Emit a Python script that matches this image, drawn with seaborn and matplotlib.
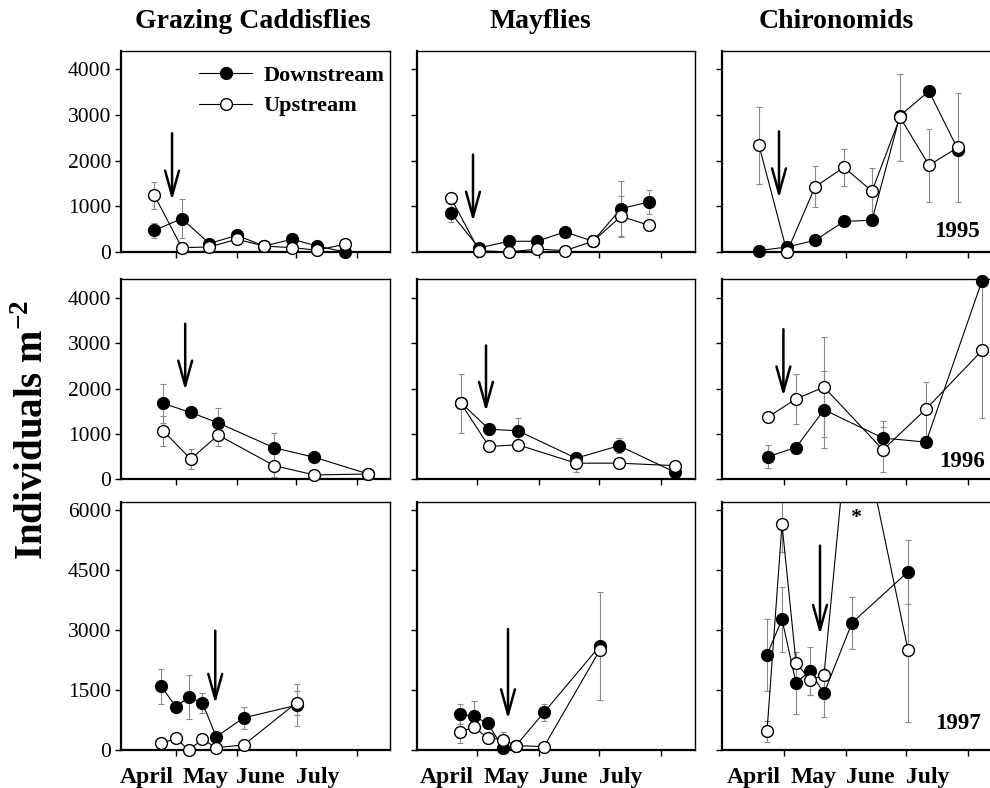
import numpy as np
import pandas as pd
import matplotlib
matplotlib.use('Agg')
import matplotlib.pyplot as plt
import seaborn as sns
from matplotlib.lines import Line2D

sns.set_style('ticks')
plt.rcParams['font.family'] = ['Liberation Serif', 'DejaVu Serif']
plt.rcParams['mathtext.fontset'] = 'custom'
plt.rcParams['mathtext.rm'] = 'Liberation Serif'
plt.rcParams['mathtext.bf'] = 'Liberation Serif:bold'
for key in ['text.color', 'xtick.color', 'ytick.color', 'axes.labelcolor',
            'axes.edgecolor']:
    plt.rcParams[key] = 'black'

# ---------------- data (days since 1 April) ----------------
taxa = ['Grazing Caddisflies', 'Mayflies', 'Chironomids']
years = ['1995', '1996', '1997']
months = ['April', 'May', 'June', 'July']
month_mid = [15, 45, 73, 102]
month_start = [30, 61, 91, 122]

# 1995
gc95_day = [19, 33, 47, 61, 75, 89, 102, 116]
gc95_down = [475, 730, 185, 365, 130, 280, 130, 0]
gc95_up = [1240, 95, 110, 280, 130, 95, 40, 170]
gc95_down_err = [160, 420, 0, 0, 0, 0, 0, 0]
gc95_up_err = [300, 0, 0, 0, 0, 0, 0, 0]

may95_day = [17, 31, 46, 60, 74, 88, 102, 116]
may95_down = [850, 90, 235, 235, 440, 235, 950, 1095]
may95_up = [1180, 30, 0, 65, 30, 235, 780, 585]
may95_down_err = [200, 0, 0, 0, 0, 0, 600, 260]
may95_up_err = [0, 0, 0, 0, 0, 0, 450, 0]

chi95_day = [17.5, 31.5, 45.5, 60, 74, 88, 102.5, 117]
chi95_down = [30, 110, 255, 670, 695, 2985, 3520, 2240]
chi95_up = [2335, 0, 1425, 1855, 1330, 2950, 1900, 2290]
chi95_down_err = [0, 0, 0, 100, 0, 0, 0, 0]
chi95_up_err = [850, 0, 450, 400, 500, 950, 800, 1200]

# 1996
gc96_day = [23.5, 37.5, 51.5, 80, 100.5, 128]
gc96_down = [1670, 1470, 1240, 690, 480, 110]
gc96_up = [1065, 440, 970, 295, 90, 110]
gc96_down_err = [440, 0, 330, 320, 0, 0]
gc96_up_err = [330, 220, 250, 250, 0, 0]

may96_day = [22, 36, 50.5, 79.5, 101, 129]
may96_down = [1685, 1100, 1065, 460, 735, 150]
may96_up = [1670, 720, 755, 350, 350, 295]
may96_down_err = [0, 0, 280, 100, 170, 0]
may96_up_err = [650, 0, 0, 200, 0, 0]

chi96_day = [22, 36, 50, 79.5, 101, 129]
chi96_down = [495, 695, 1530, 905, 815, 4380]
chi96_up = [1370, 1770, 2030, 645, 1545, 2840]
chi96_down_err = [250, 0, 850, 370, 0, 0]
chi96_up_err = [0, 550, 1100, 500, 600, 1500]

# 1997
gc97_day = [22.5, 30, 36.5, 43.5, 50.5, 64.5, 91.5]
gc97_down = [1590, 1080, 1325, 1175, 330, 805, 1120]
gc97_up = [165, 290, 0, 265, 60, 125, 1185]
gc97_down_err = [440, 0, 550, 250, 0, 280, 530]
gc97_up_err = [0, 0, 0, 0, 0, 0, 300]

may97_day = [21.5, 28.5, 35.5, 43, 49.5, 63.5, 91.5]
may97_down = [900, 840, 665, 40, 110, 940, 2605]
may97_up = [460, 565, 300, 260, 110, 85, 2505]
may97_down_err = [250, 390, 0, 0, 0, 210, 1350]
may97_up_err = [280, 0, 0, 200, 0, 0, 0]

chi97_day = [21.5, 29, 36, 43, 50, 64, 92]
chi97_down = [2380, 3265, 1680, 1975, 1415, 3180, 4455]
chi97_up = [465, 5645, 2185, 1750, 1875, 9200, 2505]
chi97_down_err = [900, 820, 770, 590, 600, 650, 800]
chi97_up_err = [270, 700, 0, 380, 0, 0, 1800]

# disturbance arrows: day, top value, tip value (row-major, 3x3)
arrow_day = [28, 28, 27.5, 34.7, 34.5, 29.7, 50, 45.5, 48]
arrow_top = [2600, 2130, 2640, 3430, 2950, 3310, 2985, 3025, 5110]
arrow_tip = [1130, 670, 1180, 1960, 1490, 1830, 1160, 775, 2885]

panels = [
    [dict(day=gc95_day, down=gc95_down, up=gc95_up, de=gc95_down_err, ue=gc95_up_err),
     dict(day=may95_day, down=may95_down, up=may95_up, de=may95_down_err, ue=may95_up_err),
     dict(day=chi95_day, down=chi95_down, up=chi95_up, de=chi95_down_err, ue=chi95_up_err)],
    [dict(day=gc96_day, down=gc96_down, up=gc96_up, de=gc96_down_err, ue=gc96_up_err),
     dict(day=may96_day, down=may96_down, up=may96_up, de=may96_down_err, ue=may96_up_err),
     dict(day=chi96_day, down=chi96_down, up=chi96_up, de=chi96_down_err, ue=chi96_up_err)],
    [dict(day=gc97_day, down=gc97_down, up=gc97_up, de=gc97_down_err, ue=gc97_up_err),
     dict(day=may97_day, down=may97_down, up=may97_up, de=may97_down_err, ue=may97_up_err),
     dict(day=chi97_day, down=chi97_down, up=chi97_up, de=chi97_down_err, ue=chi97_up_err)],
]

# ---------------- layout ----------------
W, H = 990, 788
fig = plt.figure(figsize=(W / 100, H / 100), dpi=100)
col_left = [121, 417, 722]
col_width = [269, 278, 278]
row_top = [51, 279, 502]
row_bottom = [252, 479, 750]
col_xlim = [(2, 139), (0, 139), (-1, 138)]
row_ylim = [(0, 4400), (0, 4420), (0, 6200)]
row_yticks = [[0, 1000, 2000, 3000, 4000], [0, 1000, 2000, 3000, 4000],
              [0, 1500, 3000, 4500, 6000]]
year_pos = [(128, 330), (130.5, 272), (128.6, 513)]

MS = 8.5
for r in range(3):
    for c in range(3):
        p = panels[r][c]
        ax = fig.add_axes([col_left[c] / W, 1 - row_bottom[r] / H,
                           col_width[c] / W, (row_bottom[r] - row_top[r]) / H])
        ymax = row_ylim[r][1]
        days = np.array(p['day'], float)
        for key, ekey, fc in [('down', 'de', 'black'), ('up', 'ue', 'white')]:
            vals = np.array(p[key], float)
            errs = np.array(p[ekey], float)
            m = errs > 0
            if m.any():
                ax.errorbar(days[m], vals[m], yerr=errs[m], fmt='none',
                            ecolor='#8a8a8a', elinewidth=0.8, capsize=2.5,
                            capthick=0.8, zorder=1)
            clip = bool(vals.max() > ymax)
            sns.lineplot(x=days, y=vals, ax=ax, color='black', lw=0.8,
                         marker='o', markersize=MS, markerfacecolor=fc,
                         markeredgecolor='black', markeredgewidth=1.0,
                         clip_on=clip, zorder=3 if key == 'down' else 4)
        k = r * 3 + c
        ax.annotate('', xy=(arrow_day[k], arrow_tip[k]),
                    xytext=(arrow_day[k], arrow_top[k]),
                    arrowprops=dict(arrowstyle='->,head_length=1.8,head_width=0.5',
                                    lw=1.8, color='black', mutation_scale=10,
                                    shrinkA=0, shrinkB=0), zorder=5)
        ax.set_xlim(*col_xlim[c])
        ax.set_ylim(*row_ylim[r])
        ax.set_yticks(row_yticks[r])
        ax.set_xticks(month_start)
        ax.set_xticklabels([])
        ax.set_xlabel('')
        ax.set_ylabel('')
        if c == 0:
            ax.set_yticklabels([str(v) for v in row_yticks[r]], fontsize=15.5)
        else:
            ax.set_yticklabels([])
        if r == 2:
            ax.set_xticks(month_mid, minor=True)
            ax.set_xticklabels(months, minor=True, fontsize=17, fontweight='bold')
            ax.tick_params(axis='x', which='minor', length=0, pad=12)
        ax.tick_params(axis='both', which='major', direction='out', length=4,
                       width=1, color='black', labelcolor='black', pad=3)
        ax.tick_params(axis='x', which='minor', labelcolor='black')
        for s in ['left', 'bottom']:
            ax.spines[s].set_linewidth(1.6)
        for s in ['top', 'right']:
            ax.spines[s].set_linewidth(1.0)
        for s in ax.spines.values():
            s.set_color('black')
        if c == 2:
            ax.text(year_pos[r][0], year_pos[r][1], years[r], ha='right',
                    va='baseline', fontsize=16.5, fontweight='bold', color='black')
        if r == 2 and c == 2:
            ax.text(66, 5800, '*', ha='center', va='center', fontsize=16,
                    fontweight='bold', color='black')
        if r == 0 and c == 0:
            h1 = Line2D([], [], color='black', lw=0.8, marker='o', markersize=MS,
                        markerfacecolor='black', markeredgecolor='black')
            h2 = Line2D([], [], color='black', lw=0.8, marker='o', markersize=MS,
                        markerfacecolor='white', markeredgecolor='black')
            leg = ax.legend([h1, h2], ['Downstream', 'Upstream'], loc='upper left',
                            bbox_to_anchor=(0.24, 0.995), frameon=False,
                            prop=dict(size=16, weight='bold'), handlelength=2.4,
                            labelspacing=0.45, handletextpad=0.5, borderaxespad=0.2)
            for t in leg.get_texts():
                t.set_color('black')

title_x = [253, 540, 836]
for c in range(3):
    fig.text(title_x[c] / W, 1 - 21 / H, taxa[c], ha='center', va='center',
             fontsize=20, fontweight='bold', color='black')
fig.text(34 / W, 1 - 430 / H, r'Individuals m$^{\mathbf{-2}}$', rotation=90,
         ha='center', va='center', fontsize=28, fontweight='bold', color='black')

fig.savefig('out.png', dpi=100)
